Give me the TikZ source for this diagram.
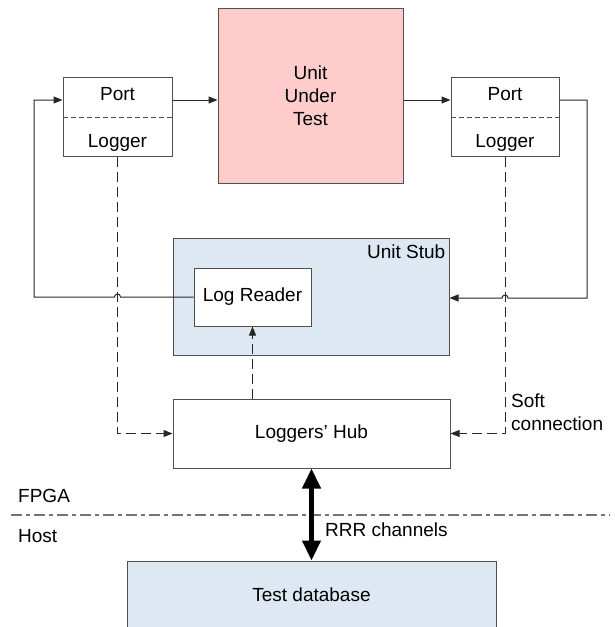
\documentclass[tikz,border=0pt]{standalone}
\usepackage{fontspec}
\setmainfont{Liberation Sans}
\usetikzlibrary{arrows.meta}
\definecolor{uutpink}{RGB}{255,204,204}
\definecolor{stubblue}{RGB}{222,232,242}
\definecolor{edgegray}{RGB}{80,80,80}

\begin{document}
\begin{tikzpicture}[x=1pt, y=-1pt,
    font=\fontsize{19}{23}\selectfont,
    box/.style={draw=edgegray, fill=white, line width=1pt, inner sep=0pt},
    sig/.style={-{Triangle[length=9pt,width=7pt]}, draw=black!85, line width=1pt},
    softlink/.style={sig, dash pattern=on 10pt off 5pt},
    bus/.style={{Triangle[length=20pt,width=18pt]}-{Triangle[length=20pt,width=18pt]}, line width=4.5pt},
    label/.style={inner sep=0pt}]
    \useasboundingbox (0,0) rectangle (614,627);

    % Unit under test
    \node[box, fill=uutpink, minimum width=185pt, minimum height=175pt, align=center] (uut) at (310.5,95.5) {Unit\\Under\\Test};

    % Port / Logger pairs
    \node[box, minimum width=109pt, minimum height=79pt] (lbox) at (117.5,116.5) {};
    \node[label, anchor=base] (lport) at (117.5,100) {Port};
    \node[label, anchor=base] (llog) at (117.5,147) {Logger};
    \draw[edgegray, dash pattern=on 5pt off 3pt] (lbox.west |- 0,117) -- (lbox.east |- 0,117);

    \node[box, minimum width=108pt, minimum height=79pt] (rbox) at (505,116.5) {};
    \node[label, anchor=base] (rport) at (505,100) {Port};
    \node[label, anchor=base] (rlog) at (505,147) {Logger};
    \draw[edgegray, dash pattern=on 5pt off 3pt] (rbox.west |- 0,117) -- (rbox.east |- 0,117);

    % Unit stub with log reader
    \node[box, fill=stubblue, minimum width=276pt, minimum height=117pt] (stub) at (311,296.5) {};
    \node[label, anchor=base east] (stubname) at ([shift={(-4,21)}]stub.north east) {Unit Stub};
    \node[box, minimum width=117pt, minimum height=58pt] (lreader) at (252.5,297) {Log Reader};

    % Hub and database
    \node[box, minimum width=277pt, minimum height=69pt] (hub) at (311.5,433.5) {Loggers’ Hub};
    \node[box, fill=stubblue, minimum width=369pt, minimum height=68pt] (testdb) at (311.5,595) {Test database};

    % FPGA / Host boundary
    \draw[black!55, line width=1.2pt, dash pattern=on 11pt off 4pt on 4pt off 4pt] (11,515) -- (610,515);
    \node[label, anchor=base west] (fpga) at (18,502) {FPGA};
    \node[label, anchor=base west] (host) at (18,542) {Host};

    % Signal path
    \coordinate (sigy) at (0,100);
    \draw[sig] (lbox.east |- sigy) -- (uut.west |- sigy);
    \draw[sig] (uut.east |- sigy) -- (rbox.west |- sigy);
    \draw[sig] (rbox.east |- sigy) -- (587,100) |- (508,298)
        arc[start angle=0, end angle=-180, radius=3] -- (stub.east |- 0,298);
    \draw[sig] (lreader.west) -- (120.5,297)
        arc[start angle=0, end angle=-180, radius=3] -- (34,297) |- (lbox.west |- sigy);

    % Soft connections
    \draw[softlink] (lbox.south) |- (hub.west);
    \draw[softlink] (rbox.south) |- (hub.east);
    \draw[softlink] (hub.north -| lreader.south) -- (lreader.south);
    \node[label, anchor=west, align=left] (soft) at (511,412.5) {Soft\\connection};

    % Host link
    \draw[bus] (hub.south) -- (testdb.north);
    \node[label, anchor=base west] (rrr) at (325,536) {RRR channels};
\end{tikzpicture}
\end{document}
